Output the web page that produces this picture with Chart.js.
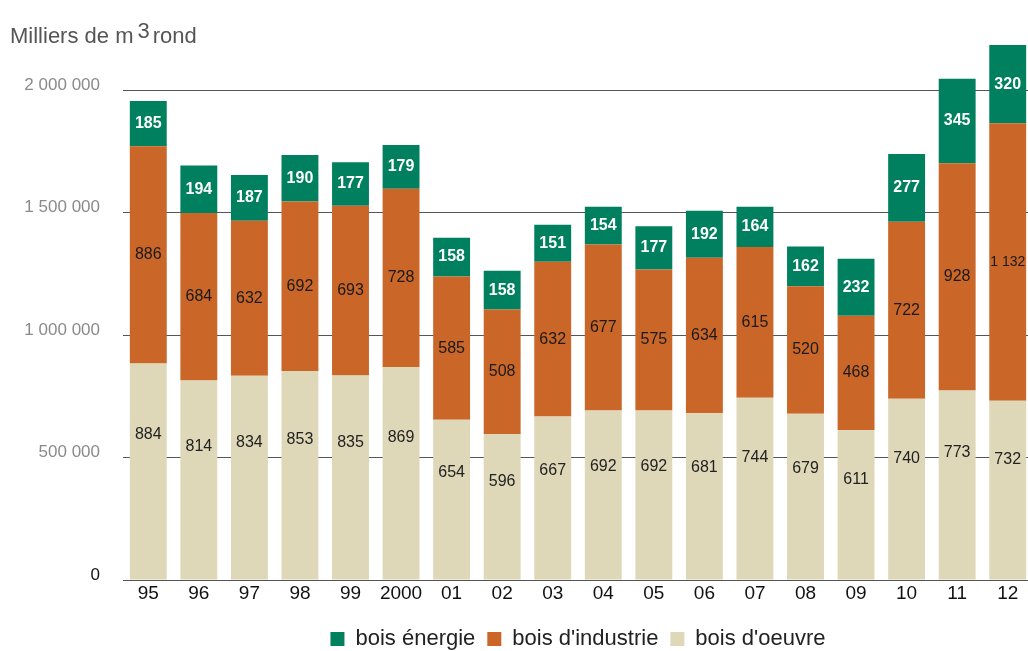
<!DOCTYPE html>
<html>
<head>
<meta charset="utf-8">
<script src="https://cdn.jsdelivr.net/npm/chart.js@4/dist/chart.umd.min.js"></script>
<style>
  html, body { margin: 0; padding: 0; background: #fff; overflow: hidden; }
  #wrap { width: 1033px; height: 651px; }
</style>
</head>
<body>
<div id="wrap"><canvas id="chart" width="1033" height="651"></canvas></div>
<script>
// Years on the x axis
const years = ['95', '96', '97', '98', '99', '2000', '01', '02', '03', '04', '05', '06', '07', '08', '09', '10', '11', '12'];

// Volumes in milliers de m3
const boisOeuvre = [884, 814, 834, 853, 835, 869, 654, 596, 667, 692, 692, 681, 744, 679, 611, 740, 773, 732];
const boisIndustrie = [886, 684, 632, 692, 693, 728, 585, 508, 632, 677, 575, 634, 615, 520, 468, 722, 928, 1132];
const boisEnergie = [185, 194, 187, 190, 177, 179, 158, 158, 151, 154, 177, 192, 164, 162, 232, 277, 345, 320];

const yTicks = [0, 500000, 1000000, 1500000, 2000000];

const FONT = "'Liberation Sans', Arial, sans-serif";
const fmt = (v) => String(v).replace(/\B(?=(\d{3})+(?!\d))/g, ' ');
const toM3 = (arr) => arr.map(v => v * 1000);

// Labels inside the bar segments
const segmentLabels = {
    id: 'segmentLabels',
    afterDatasetsDraw(chart) {
        const ctx = chart.ctx;
        ctx.save();
        ctx.textAlign = 'center';
        ctx.textBaseline = 'middle';
        chart.data.datasets.forEach((ds, di) => {
            const meta = chart.getDatasetMeta(di);
            meta.data.forEach((bar, i) => {
                const raw = ds.raw[i];
                const h = bar.base - bar.y;
                let y = bar.y + h / 2;
                if (ds.key === 'oeuvre') {
                    y = bar.base - h * 0.67;
                    ctx.fillStyle = '#222';
                    ctx.font = '16px ' + FONT;
                } else if (ds.key === 'industrie') {
                    ctx.fillStyle = '#1a1a1a';
                    ctx.font = (raw >= 1000 ? '14px ' : '16px ') + FONT;
                } else {
                    ctx.fillStyle = '#fff';
                    ctx.font = 'bold 16px ' + FONT;
                }
                ctx.fillText(fmt(raw), bar.x, y);
            });
        });
        ctx.restore();
    }
};

// Unit title with raised "3"
const unitTitle = {
    id: 'unitTitle',
    afterDraw(chart) {
        const ctx = chart.ctx;
        ctx.save();
        ctx.fillStyle = '#555';
        ctx.font = '22px ' + FONT;
        ctx.textBaseline = 'alphabetic';
        let x = 10;
        const y = 43;
        ctx.fillText('Milliers de m', x, y);
        x += ctx.measureText('Milliers de m').width + 4;
        ctx.fillText('3', x, y - 5);
        x += ctx.measureText('3').width + 3;
        ctx.fillText('rond', x, y);
        ctx.restore();
    }
};

new Chart(document.getElementById('chart'), {
    type: 'bar',
    data: {
        labels: years,
        datasets: [
            { key: 'oeuvre', label: "bois d'oeuvre", raw: boisOeuvre, data: toM3(boisOeuvre), backgroundColor: '#DED8B8' },
            { key: 'industrie', label: "bois d'industrie", raw: boisIndustrie, data: toM3(boisIndustrie), backgroundColor: '#C96628' },
            { key: 'energie', label: 'bois énergie', raw: boisEnergie, data: toM3(boisEnergie), backgroundColor: '#00805E' }
        ]
    },
    options: {
        responsive: false,
        animation: false,
        layout: { padding: { top: 41, left: 0, right: 0, bottom: -9 } },
        datasets: { bar: { barPercentage: 0.73, categoryPercentage: 1 } },
        plugins: {
            title: { display: false },
            tooltip: { enabled: false },
            legend: {
                position: 'bottom',
                fullSize: false,
                reverse: true,
                labels: {
                    boxWidth: 14,
                    boxHeight: 14,
                    padding: 12,
                    color: '#222',
                    font: { family: FONT, size: 22 }
                }
            }
        },
        scales: {
            x: {
                stacked: true,
                afterFit(scale) { scale.height = 36; },
                grid: { display: false, drawTicks: false },
                border: { display: false },
                ticks: { color: '#111', padding: 2, font: { family: FONT, size: 19 } }
            },
            y: {
                stacked: true,
                min: 0,
                max: 2200000,
                afterFit(scale) { scale.width = 123; },
                afterBuildTicks(scale) { scale.ticks = yTicks.map(v => ({ value: v })); },
                border: { display: false },
                grid: { color: '#555', lineWidth: 1, drawTicks: false },
                ticks: {
                    padding: 23,
                    labelOffset: -5,
                    color: (c) => (c.tick && c.tick.value === 0 ? '#111' : '#8a8a8a'),
                    font: { family: FONT, size: 17 },
                    callback: (v) => fmt(v)
                }
            }
        }
    },
    plugins: [segmentLabels, unitTitle]
});
</script>
</body>
</html>
